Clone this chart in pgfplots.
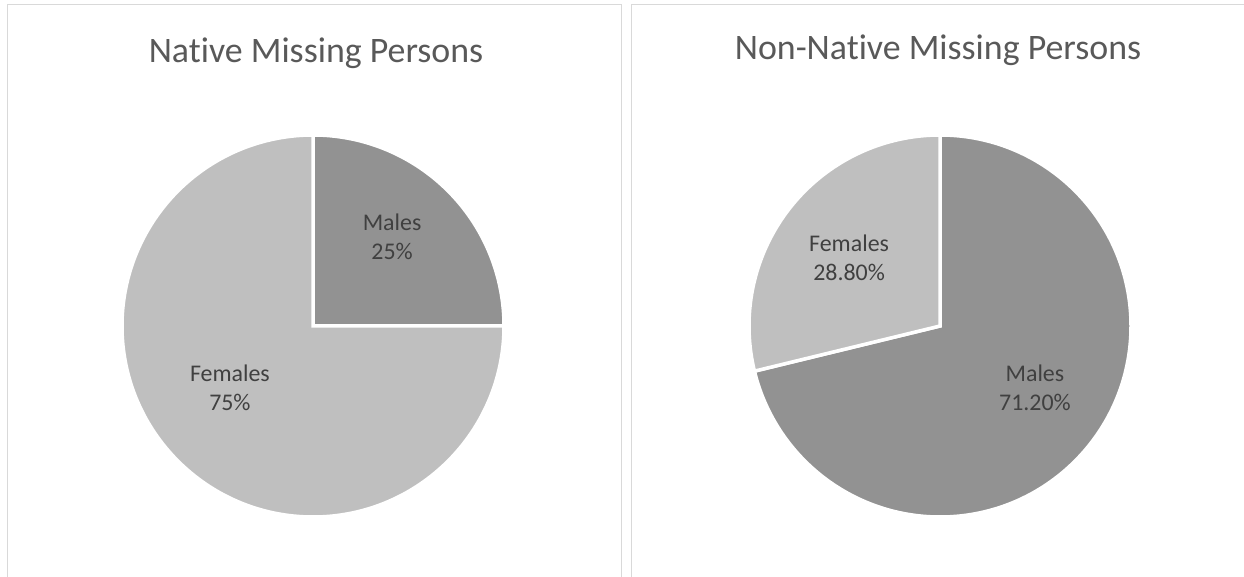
\documentclass[border=0pt]{standalone}
\usepackage{pgfplots}
\pgfplotsset{compat=1.18}
\usepackage{pgfplotstable}
\usepackage{fontspec}
\setmainfont{Carlito}[Ligatures=NoCommon]

\definecolor{malegray}{HTML}{929292}
\definecolor{femalegray}{HTML}{BFBFBF}
\definecolor{titlegray}{HTML}{595959}
\definecolor{labelgray}{HTML}{404040}
\definecolor{framegray}{HTML}{D9D9D9}

% shares in percent
\pgfplotstableread{
group share
Males 25
Females 75
}\nativetable
\pgfplotstableread{
group share
Males 71.2
Females 28.8
}\nonnativetable

% slice angles (clockwise from 12 o'clock, as Excel does)
\pgfplotstablegetelem{0}{share}\of\nativetable \let\nM\pgfplotsretval
\pgfplotstablegetelem{1}{share}\of\nativetable \let\nF\pgfplotsretval
\pgfplotstablegetelem{0}{share}\of\nonnativetable \let\oM\pgfplotsretval
\pgfplotstablegetelem{1}{share}\of\nonnativetable \let\oF\pgfplotsretval
\pgfmathsetmacro\nA{90-3.6*\nM}
\pgfmathsetmacro\nB{\nA-3.6*\nF}
\pgfmathsetmacro\oA{90-3.6*\oM}
\pgfmathsetmacro\oB{\oA-3.6*\oF}

\pgfplotsset{
  pie/.style={
    hide axis, anchor=origin,
    x=191bp, y=191bp,
    xmin=-1.05, xmax=1.05, ymin=-1.05, ymax=1.05,
    clip=false,
  },
}
\tikzset{
  slice/.style={draw=white, line width=3.5bp},
  lbl/.style={align=center, text=labelgray, font=\fontsize{24}{29}\selectfont},
  ttl/.style={text=titlegray, font=\fontsize{36}{42}\selectfont},
}

\begin{document}
\begin{tikzpicture}
\useasboundingbox (0,0) rectangle (1244bp,577bp);
\clip (0,0) rectangle (1244bp,577bp);

% chart frames
\draw[framegray, line width=1bp] (7bp,-5bp) -- (7bp,572bp) -- (621bp,572bp) -- (621bp,-5bp);
\draw[framegray, line width=1bp] (631bp,-5bp) -- (631bp,572bp) -- (1250bp,572bp);

% titles
\node[ttl] at (316bp,524bp) {Native Missing Persons};
\node[ttl] at (938bp,527bp) {Non-Native Missing Persons};

\begin{axis}[pie, at={(313bp,251bp)}]
\addplot[draw=none] coordinates {(0,0)};
\fill[malegray, slice] (axis cs:0,0) -- (axis cs:0,1)
  arc[start angle=90, end angle=\nA, radius=191bp] -- cycle;
\fill[femalegray, slice] (axis cs:0,0) -- (axis cs:{cos(\nA)},{sin(\nA)})
  arc[start angle=\nA, end angle=\nB, radius=191bp] -- cycle;
\node[lbl] at (axis cs:0.414,0.466) {Males\\25\%};
\node[lbl] at (axis cs:-0.435,-0.325) {Females\\75\%};
\end{axis}

\begin{axis}[pie, at={(940bp,251bp)}]
\addplot[draw=none] coordinates {(0,0)};
\fill[malegray, slice] (axis cs:0,0) -- (axis cs:0,1)
  arc[start angle=90, end angle=\oA, radius=191bp] -- cycle;
\fill[femalegray, slice] (axis cs:0,0) -- (axis cs:{cos(\oA)},{sin(\oA)})
  arc[start angle=\oA, end angle=\oB, radius=191bp] -- cycle;
\node[lbl] at (axis cs:0.497,-0.322) {Males\\71.20\%};
\node[lbl] at (axis cs:-0.476,0.356) {Females\\28.80\%};
\end{axis}
\end{tikzpicture}
\end{document}
